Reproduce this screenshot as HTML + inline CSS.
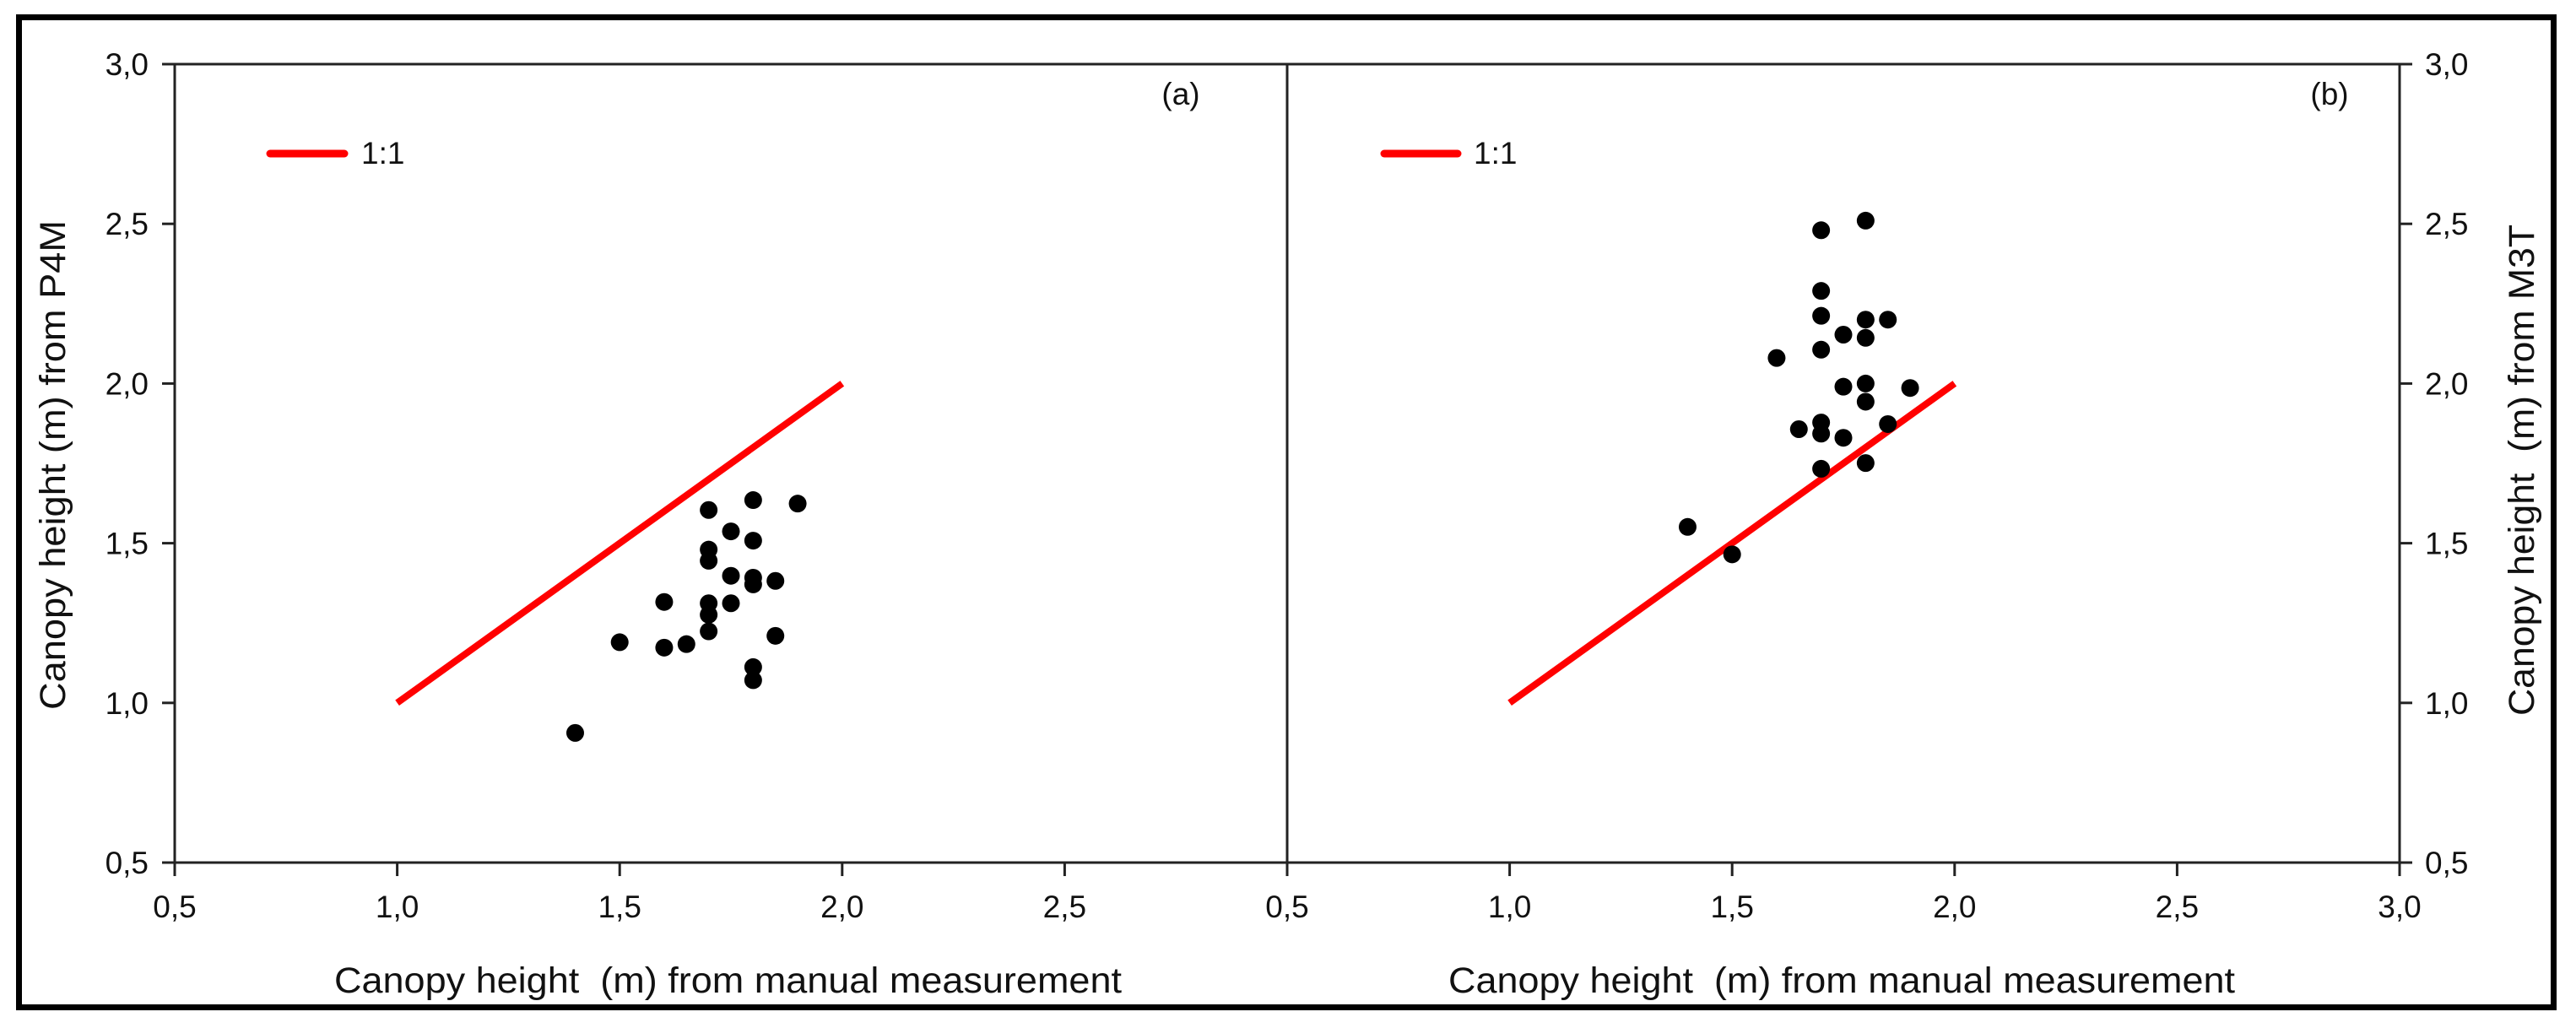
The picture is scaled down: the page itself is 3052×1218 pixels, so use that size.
<!DOCTYPE html>
<html><head><meta charset="utf-8"><style>
html,body{margin:0;padding:0;background:#fff;}
svg{display:block;font-family:"Liberation Sans",Arial,sans-serif;}
text{white-space:pre;}
</style></head><body>
<svg id="chart" width="3052" height="1218" viewBox="0 0 3052 1218" xmlns="http://www.w3.org/2000/svg">
<rect x="22.5" y="20.5" width="3003" height="1173" fill="#fff" stroke="#000" stroke-width="7"/>
<g id="g"></g>
</svg>
<script>
const xTicks=[0.5,1.0,1.5,2.0,2.5];
const xTicksB=[1.0,1.5,2.0,2.5,3.0];
const midTick=[0.5];
const yTicks=[0.5,1.0,1.5,2.0,2.5,3.0];
const tickLabelsX=["0,5","1,0","1,5","2,0","2,5"];
const tickLabelsXB=["1,0","1,5","2,0","2,5","3,0"];
const tickLabelsMid=["0,5"];
const tickLabelsY=["0,5","1,0","1,5","2,0","2,5","3,0"];
const lineX=[1.0,2.0];
const lineY=[1.0,2.0];
const aX=[1.4,1.5,1.6,1.6,1.65,1.7,1.7,1.7,1.7,1.7,1.7,1.75,1.75,1.75,1.8,1.8,1.8,1.8,1.8,1.8,1.85,1.85,1.9];
const aY=[0.906,1.19,1.316,1.173,1.184,1.604,1.48,1.445,1.312,1.276,1.224,1.537,1.398,1.312,1.635,1.508,1.392,1.371,1.112,1.071,1.382,1.21,1.624];
const bX=[1.4,1.5,1.6,1.65,1.7,1.7,1.7,1.7,1.7,1.7,1.7,1.75,1.75,1.75,1.8,1.8,1.8,1.8,1.8,1.8,1.85,1.85,1.9];
const bY=[1.551,1.465,2.08,1.857,2.48,2.29,2.212,2.106,1.878,1.843,1.733,2.153,1.99,1.83,2.51,2.2,2.143,2.0,1.943,1.751,2.2,1.873,1.986];

const NS="http://www.w3.org/2000/svg";
const g=document.getElementById('g');
function mk(tag,attrs,parent){const e=document.createElementNS(NS,tag);for(const k in attrs)e.setAttribute(k,attrs[k]);(parent||g).appendChild(e);return e;}
const yTop=76,yBot=1022;
const yS=v=>yBot-(v-0.5)*(yBot-yTop)/2.5;
const xA=v=>207+(v-0.5)*527.2;
const xB=v=>1525+(v-0.5)*527.2;
const F=37;

let e;
e=mk('line',{x1:207,y1:yTop,x2:2843,y2:yTop,stroke:'#222','stroke-width':3});


e=mk('line',{x1:207,y1:yBot,x2:2843,y2:yBot,stroke:'#222','stroke-width':3});


e=mk('line',{x1:207,y1:yTop,x2:207,y2:yBot,stroke:'#222','stroke-width':3});


e=mk('line',{x1:1525,y1:yTop,x2:1525,y2:yBot,stroke:'#222','stroke-width':3});


e=mk('line',{x1:2843,y1:yTop,x2:2843,y2:yBot,stroke:'#222','stroke-width':3});



function xtick(xf,v,lab,name){
  const x=xf(v);
  let t=mk('line',{x1:x,y1:yBot,x2:x,y2:yBot+16,stroke:'#222','stroke-width':3});
  
  
  let l=mk('text',{x:x,y:1087,'font-size':F,'text-anchor':'middle',fill:'#111'});
  l.textContent=lab;
  
  
}
xTicks.forEach((v,i)=>xtick(xA,v,tickLabelsX[i],'x-a'));
xTicksB.forEach((v,i)=>xtick(xB,v,tickLabelsXB[i],'x-b'));
midTick.forEach((v,i)=>xtick(xB,v,tickLabelsMid[i],'x-mid'));
yTicks.forEach((v,i)=>{
  const y=yS(v);
  let t=mk('line',{x1:192,y1:y,x2:207,y2:y,stroke:'#222','stroke-width':3});
  
  
  let l=mk('text',{x:176,y:y+13,'font-size':F,'text-anchor':'end',fill:'#111'});
  l.textContent=tickLabelsY[i];
  
  
  t=mk('line',{x1:2843,y1:y,x2:2858,y2:y,stroke:'#222','stroke-width':3});
  
  
  l=mk('text',{x:2873,y:y+13,'font-size':F,'text-anchor':'start',fill:'#111'});
  l.textContent=tickLabelsY[i];
  
  
});

e=mk('line',{x1:xA(lineX[0]),y1:yS(lineY[0]),x2:xA(lineX[1]),y2:yS(lineY[1]),stroke:'#f00','stroke-width':8});


e=mk('line',{x1:xB(lineX[0]),y1:yS(lineY[0]),x2:xB(lineX[1]),y2:yS(lineY[1]),stroke:'#f00','stroke-width':8});



aX.forEach((v,i)=>{
  const c=mk('circle',{cx:xA(v),cy:yS(aY[i]),r:10.5,fill:'#000'});
  
  
});
bX.forEach((v,i)=>{
  const c=mk('circle',{cx:xB(v),cy:yS(bY[i]),r:10.5,fill:'#000'});
  
  
});

e=mk('line',{x1:320,y1:182,x2:408,y2:182,stroke:'#f00','stroke-width':9,'stroke-linecap':'round'});


e=mk('text',{x:428,y:194,'font-size':F,fill:'#111'});e.textContent='1:1';


e=mk('line',{x1:1640,y1:182,x2:1727,y2:182,stroke:'#f00','stroke-width':9,'stroke-linecap':'round'});


e=mk('text',{x:1746,y:194,'font-size':F,fill:'#111'});e.textContent='1:1';



e=mk('text',{x:1399,y:124,'font-size':F,'text-anchor':'middle',fill:'#111'});e.textContent='(a)';


e=mk('text',{x:2760,y:124,'font-size':F,'text-anchor':'middle',fill:'#111'});e.textContent='(b)';



e=mk('text',{x:396,y:1176,'font-size':43,fill:'#111',textLength:933,lengthAdjust:'spacingAndGlyphs'});e.textContent='Canopy height  (m) from manual measurement';


e=mk('text',{x:1716,y:1176,'font-size':43,fill:'#111',textLength:932,lengthAdjust:'spacingAndGlyphs'});e.textContent='Canopy height  (m) from manual measurement';


e=mk('text',{x:0,y:0,'font-size':43,fill:'#111','text-anchor':'middle',textLength:580,lengthAdjust:'spacingAndGlyphs',transform:'translate(77,551) rotate(-90)'});e.textContent='Canopy height (m) from P4M';


e=mk('text',{x:0,y:0,'font-size':43,fill:'#111','text-anchor':'middle',textLength:582,lengthAdjust:'spacingAndGlyphs',transform:'translate(3002,557) rotate(-90)'});e.textContent='Canopy height  (m) from M3T';


</script>
</body></html>
